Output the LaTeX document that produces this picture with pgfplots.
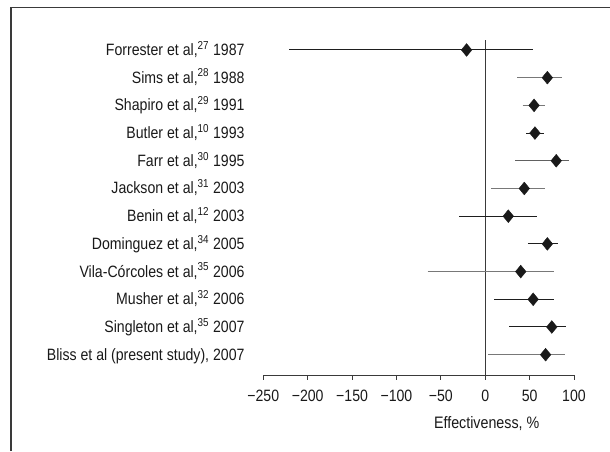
\documentclass[border=0pt]{standalone}
\usepackage{pgfplots}
\pgfplotsset{compat=1.18}
\usepackage{fontspec}
\setmainfont{Liberation Sans}[FakeStretch=0.86]
\definecolor{ciblack}{HTML}{1E1E1E}
\definecolor{cigray}{HTML}{787878}
\definecolor{framec}{HTML}{3A3A3A}
\begin{document}
\begin{tikzpicture}[x=1pt,y=1pt]
\useasboundingbox (0,0) rectangle (610,451);
\draw[framec, line width=1.2pt] (11,0) -- (11,443.5) -- (610,443.5);
\begin{axis}[
  at={(263.3pt,76pt)}, anchor=south west,
  scale only axis, width=310.7pt, height=335pt,
  xmin=-250, xmax=100, ymin=0.267, ymax=12.36,
  axis lines*=left,
  y axis line style={draw=none},
  x axis line style={color=framec, line width=1pt},
  xtick={-250,-200,-150,-100,-50,0,50,100},
  xticklabels={−250,−200,−150,−100,−50,0,50,100},
  xtick align=outside,
  major tick length=4.5pt,
  xtick style={color=framec, line width=1pt},
  ytick={1,...,12},
  yticklabels={{Bliss et al (present study), 2007},
    {Singleton et al,\textsuperscript{35} 2007},
    {Musher et al,\textsuperscript{32} 2006},
    {Vila-Córcoles et al,\textsuperscript{35} 2006},
    {Dominguez et al,\textsuperscript{34} 2005},
    {Benin et al,\textsuperscript{12} 2003},
    {Jackson et al,\textsuperscript{31} 2003},
    {Farr et al,\textsuperscript{30} 1995},
    {Butler et al,\textsuperscript{10} 1993},
    {Shapiro et al,\textsuperscript{29} 1991},
    {Sims et al,\textsuperscript{28} 1988},
    {Forrester et al,\textsuperscript{27} 1987}},
  ytick style={draw=none},
  ticklabel style={font=\fontsize{16.4}{19}\selectfont, text=black!90},
  yticklabel style={anchor=base east, xshift=-15.3pt, yshift=-5.5pt},
  xticklabel style={anchor=base, yshift=-22pt},
  xlabel={Effectiveness, \%},
  xlabel style={at={(0.719,0)}, anchor=base, yshift=-53pt, font=\fontsize{16.6}{19}\selectfont, text=black!90},
  clip=false,
]
\addplot[framec, line width=1pt] coordinates {(0,0.267) (0,12.36)};
% confidence intervals
\addplot[ciblack, line width=1pt] coordinates {(-221,12) (54,12)};
\addplot[cigray, line width=1pt] coordinates {(36,11) (86,11)};
\addplot[cigray, line width=1pt] coordinates {(42,10) (67,10)};
\addplot[ciblack, line width=1pt] coordinates {(46,9) (66,9)};
\addplot[ciblack!70, line width=1pt] coordinates {(34,8) (94,8)};
\addplot[cigray, line width=1pt] coordinates {(7,7) (67,7)};
\addplot[ciblack, line width=1pt] coordinates {(-29,6) (58,6)};
\addplot[ciblack, line width=1pt] coordinates {(48,5) (82,5)};
\addplot[cigray, line width=1pt] coordinates {(-65,4) (78,4)};
\addplot[ciblack, line width=1pt] coordinates {(10,3) (77,3)};
\addplot[ciblack, line width=1pt] coordinates {(27,2) (91,2)};
\addplot[cigray, line width=1pt] coordinates {(3,1) (90,1)};
% point estimates
\addplot[only marks, mark=diamond*, mark size=6.4pt, mark options={xscale=1.1}, color=black!90] coordinates {
(-21,12) (70,11) (55,10) (56,9) (80,8) (44,7) (26,6) (70,5) (40,4) (54,3) (75,2) (68,1)};
\end{axis}
\end{tikzpicture}
\end{document}
